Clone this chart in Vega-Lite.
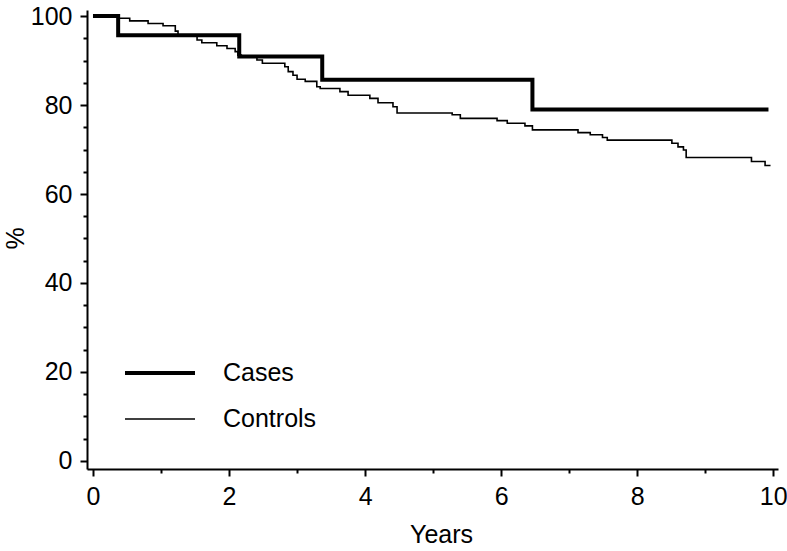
{
  "$schema": "https://vega.github.io/schema/vega-lite/v6.json",
  "width": 691,
  "height": 459,
  "autosize": {"type": "none"},
  "padding": {"left": 87, "top": 10, "right": 9, "bottom": 82},
  "background": "white",
  "config": {
    "view": {"stroke": null},
    "font": "Liberation Sans",
    "axis": {
      "grid": false,
      "domainColor": "black",
      "domainWidth": 2,
      "tickColor": "black",
      "tickWidth": 2,
      "labelColor": "black",
      "labelFont": "Liberation Sans",
      "labelFontSize": 25,
      "titleFont": "Liberation Sans",
      "titleFontSize": 25,
      "titleFontWeight": "normal",
      "titleColor": "black"
    }
  },
  "data": {
    "values": [
      {"group": "Cases", "year": 0, "pct": 100},
      {"group": "Cases", "year": 0.37, "pct": 95.7},
      {"group": "Cases", "year": 2.15, "pct": 90.9},
      {"group": "Cases", "year": 3.37, "pct": 85.7},
      {"group": "Cases", "year": 6.46, "pct": 79.0},
      {"group": "Cases", "year": 9.93, "pct": 79.0},
      {"group": "Controls", "year": 0, "pct": 100},
      {"group": "Controls", "year": 0.37, "pct": 99.5},
      {"group": "Controls", "year": 0.54, "pct": 98.9},
      {"group": "Controls", "year": 0.81, "pct": 98.3},
      {"group": "Controls", "year": 1.03, "pct": 97.8},
      {"group": "Controls", "year": 1.21, "pct": 96.6},
      {"group": "Controls", "year": 1.25, "pct": 95.7},
      {"group": "Controls", "year": 1.53, "pct": 94.6},
      {"group": "Controls", "year": 1.6, "pct": 94.0},
      {"group": "Controls", "year": 1.82, "pct": 93.3},
      {"group": "Controls", "year": 1.97, "pct": 92.7},
      {"group": "Controls", "year": 2.09, "pct": 92.0},
      {"group": "Controls", "year": 2.13, "pct": 91.2},
      {"group": "Controls", "year": 2.18, "pct": 90.8},
      {"group": "Controls", "year": 2.41, "pct": 90.1},
      {"group": "Controls", "year": 2.49, "pct": 89.4},
      {"group": "Controls", "year": 2.82, "pct": 88.6},
      {"group": "Controls", "year": 2.87, "pct": 87.5},
      {"group": "Controls", "year": 2.94, "pct": 86.7},
      {"group": "Controls", "year": 3.0, "pct": 85.8},
      {"group": "Controls", "year": 3.12, "pct": 85.3},
      {"group": "Controls", "year": 3.29, "pct": 84.1},
      {"group": "Controls", "year": 3.34, "pct": 83.7},
      {"group": "Controls", "year": 3.63, "pct": 83.0},
      {"group": "Controls", "year": 3.75, "pct": 82.2},
      {"group": "Controls", "year": 4.07, "pct": 81.5},
      {"group": "Controls", "year": 4.19, "pct": 80.5},
      {"group": "Controls", "year": 4.41, "pct": 79.6},
      {"group": "Controls", "year": 4.47, "pct": 78.2},
      {"group": "Controls", "year": 5.28, "pct": 77.8},
      {"group": "Controls", "year": 5.4, "pct": 77.0},
      {"group": "Controls", "year": 5.94, "pct": 76.5},
      {"group": "Controls", "year": 6.09, "pct": 75.9},
      {"group": "Controls", "year": 6.35, "pct": 75.3},
      {"group": "Controls", "year": 6.46, "pct": 74.4},
      {"group": "Controls", "year": 7.13, "pct": 73.8},
      {"group": "Controls", "year": 7.31, "pct": 73.3},
      {"group": "Controls", "year": 7.49, "pct": 72.7},
      {"group": "Controls", "year": 7.56, "pct": 72.1},
      {"group": "Controls", "year": 8.51, "pct": 71.4},
      {"group": "Controls", "year": 8.6, "pct": 70.6},
      {"group": "Controls", "year": 8.68, "pct": 69.9},
      {"group": "Controls", "year": 8.72, "pct": 68.2},
      {"group": "Controls", "year": 9.68, "pct": 67.3},
      {"group": "Controls", "year": 9.88, "pct": 66.4},
      {"group": "Controls", "year": 9.96, "pct": 66.4}
    ]
  },
  "mark": {"type": "line", "interpolate": "step-after", "color": "black", "strokeCap": "butt"},
  "encoding": {
    "x": {
      "field": "year",
      "type": "quantitative",
      "scale": {"domain": [-0.088, 10.07], "nice": false, "zero": false},
      "axis": {
        "title": "Years",
        "format": "d",
        "values": [0, 0.5, 1, 1.5, 2, 2.5, 3, 3.5, 4, 4.5, 5, 5.5, 6, 6.5, 7, 7.5, 8, 8.5, 9, 9.5, 10],
        "labelExpr": "datum.value % 2 == 0 ? format(datum.value, 'd') : ''",
        "tickSize": {"condition": {"test": "datum.value % 2 == 0", "value": 7}, "value": 4},
        "labelPadding": 8,
        "labelFlush": false,
        "labelOverlap": false,
        "titleX": 354,
        "titleY": 65,
        "titleBaseline": "middle"
      }
    },
    "y": {
      "field": "pct",
      "type": "quantitative",
      "scale": {"domain": [-1.8, 101.35], "nice": false, "zero": false},
      "axis": {
        "title": "%",
        "format": "d",
        "values": [0, 5, 10, 15, 20, 25, 30, 35, 40, 45, 50, 55, 60, 65, 70, 75, 80, 85, 90, 95, 100],
        "labelExpr": "datum.value % 20 == 0 ? format(datum.value, 'd') : ''",
        "tickSize": {"condition": {"test": "datum.value % 20 == 0", "value": 7}, "value": 4},
        "labelPadding": 8,
        "labelFlush": false,
        "labelOverlap": false,
        "titleX": -72,
        "titleY": 228,
        "titleBaseline": "middle",
        "titleAlign": "center"
      }
    },
    "strokeWidth": {
      "field": "group",
      "type": "nominal",
      "scale": {"domain": ["Cases", "Controls"], "range": [4, 1.6]},
      "legend": {
        "title": null,
        "orient": "none",
        "legendX": 36,
        "legendY": 351,
        "symbolType": "stroke",
        "symbolSize": 4900,
        "symbolStrokeColor": "black",
        "labelFont": "Liberation Sans",
        "labelFontSize": 25,
        "labelColor": "black",
        "labelOffset": 26,
        "clipHeight": 24,
        "rowPadding": 21
      }
    }
  }
}
